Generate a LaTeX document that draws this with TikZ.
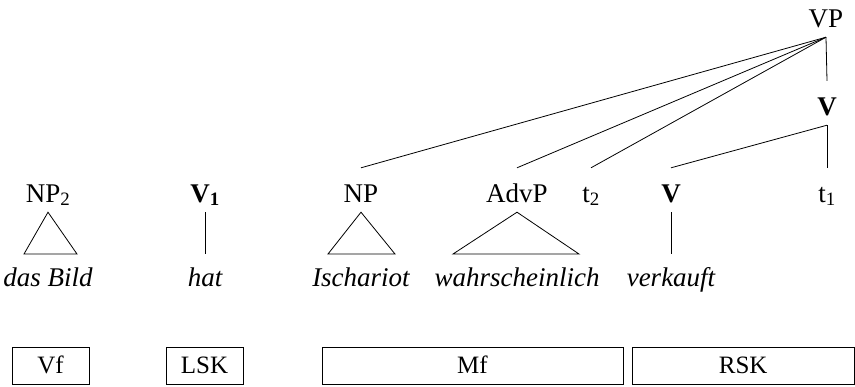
\documentclass[tikz,border=0pt]{standalone}
\usepackage{fontspec}
\setmainfont{Liberation Serif}
\begin{document}
\begin{tikzpicture}[x=1pt,y=-1pt,
  every node/.style={font=\fontsize{27}{32}\selectfont},
  lab/.style={inner sep=0pt, anchor=base, text height=34pt, text depth=10pt},
  word/.style={inner sep=0pt, anchor=base, text height=32pt, text depth=0pt, font=\fontsize{27}{32}\selectfont\itshape},
  field/.style={draw, line width=0.8pt, inner sep=0pt, minimum height=37pt, text height=16.5pt, text depth=0pt, font=\fontsize{25}{30}\selectfont},
  edge/.style={line width=0.8pt}
]
\useasboundingbox (0,0) rectangle (855,386);

% tree labels
\node[lab] (VP) at (826,27) {VP};
\node[lab] (Vbar) at (827,115) {\textbf{V}};
\node[lab] (NPtwo) at (48,202) {NP\textsubscript{2}};
\node[lab] (Vone) at (205,202) {\textbf{V\textsubscript{1}}};
\node[lab] (NP) at (361,202) {NP};
\node[lab] (AdvP) at (517,202) {AdvP};
\node[lab] (ttwo) at (591,202) {t\textsubscript{2}};
\node[lab] (V) at (671,202) {\textbf{V}};
\node[lab] (tone) at (827,202) {t\textsubscript{1}};

% words
\node[word] (dasBild) at (48,286) {das Bild};
\node[word] (hat) at (205,286) {hat};
\node[word] (Ischariot) at (361,286) {Ischariot};
\node[word] (wahr) at (517,286) {wahrscheinlich};
\node[word] (verkauft) at (671,286) {verkauft};

% triangle base corners
\coordinate (aL) at (24,254);
\coordinate (aR) at (77,254);
\coordinate (bL) at (328,254);
\coordinate (bR) at (395,254);
\coordinate (cL) at (453,254);
\coordinate (cR) at (579,254);

% branches
\draw[edge] (VP.south) -- (NP.north);
\draw[edge] (VP.south) -- (AdvP.north);
\draw[edge] (VP.south) -- (ttwo.north);
\draw[edge] (VP.south) -- (Vbar.north);
\draw[edge] (Vbar.south) -- (V.north);
\draw[edge] (Vbar.south) -- (tone.north);
\draw[edge] (Vone.south) -- (hat.north);
\draw[edge] (V.south) -- (verkauft.north);

% triangles
\draw[edge] (NPtwo.south) -- (aL) -- (aR) -- cycle;
\draw[edge] (NP.south) -- (bL) -- (bR) -- cycle;
\draw[edge] (AdvP.south) -- (cL) -- (cR) -- cycle;

% topological fields
\node[field, minimum width=77pt] (Vf) at (50.5,365.5) {Vf};
\node[field, minimum width=77pt] (LSK) at (204.5,365.5) {LSK};
\node[field, minimum width=301pt] (Mf) at (472.5,365.5) {Mf};
\node[field, minimum width=222pt] (RSK) at (743.2,365.5) {RSK};
\end{tikzpicture}
\end{document}
